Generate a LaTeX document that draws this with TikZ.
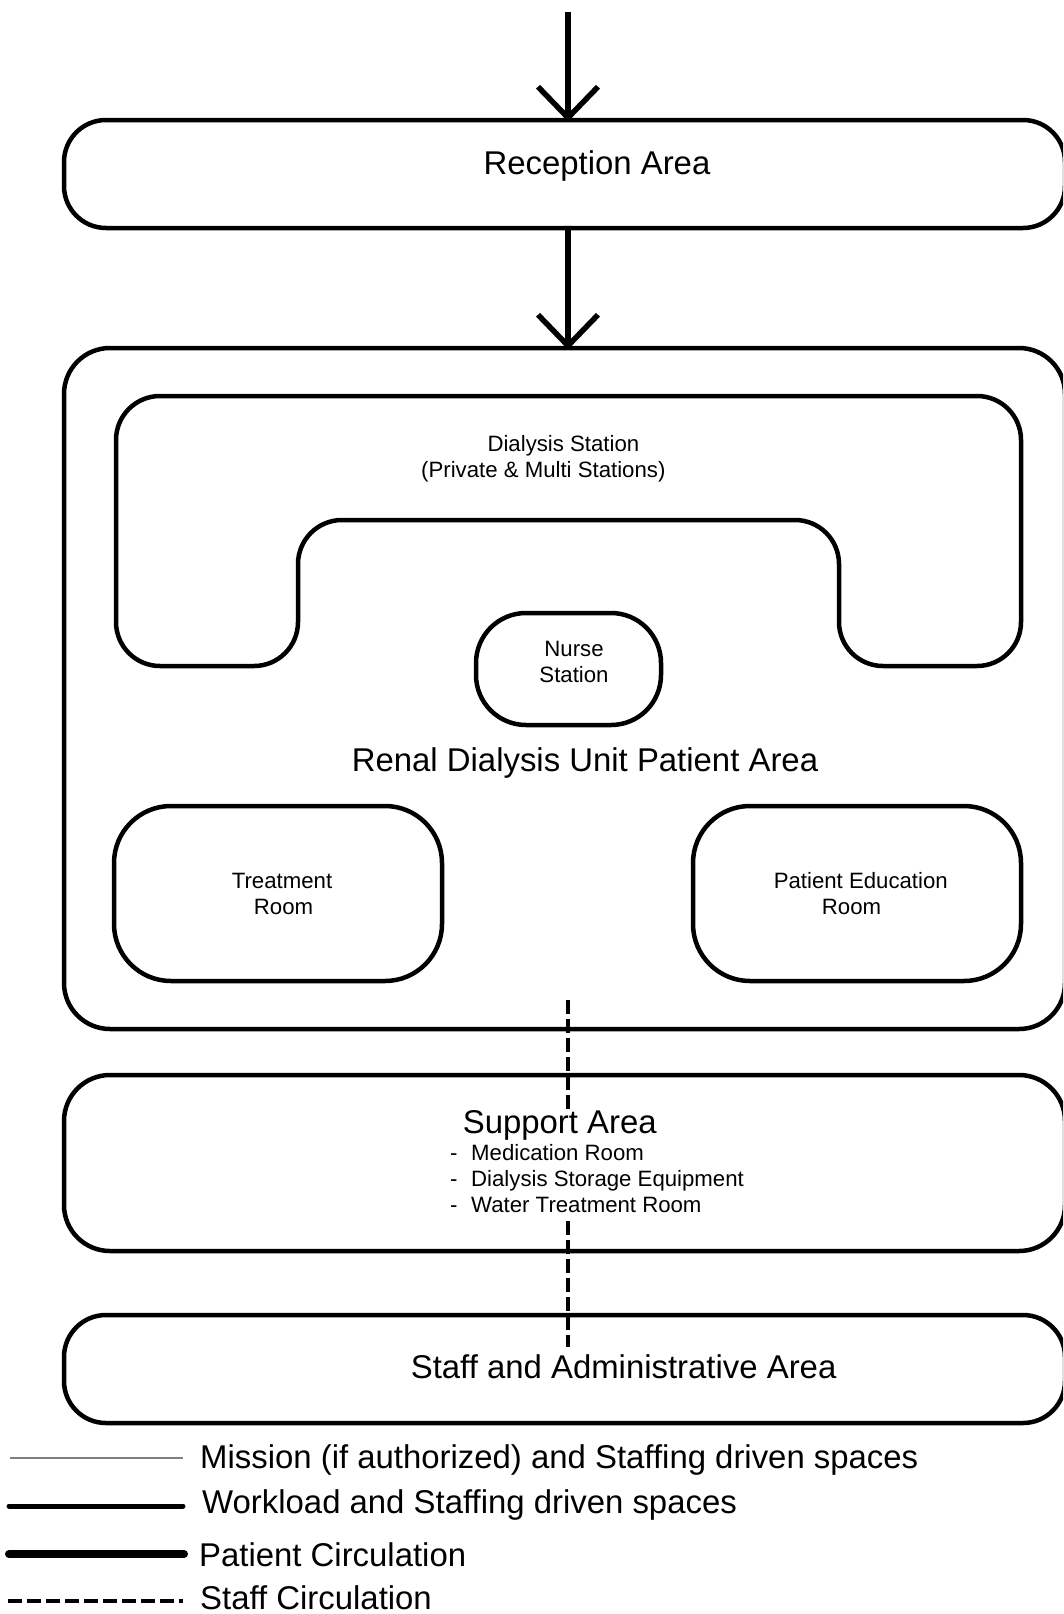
\documentclass[tikz,border=0pt]{standalone}
\usepackage{fontspec}
\setmainfont{Liberation Sans}
\usetikzlibrary{calc}
\begin{document}
\begin{tikzpicture}[x=1pt,y=-1pt,
  area/.style={draw, line width=4.5pt, rectangle, inner sep=0pt},
  big/.style={font=\fontsize{32.9pt}{39pt}\selectfont, inner sep=0pt, anchor=base},
  small/.style={font=\fontsize{22.2pt}{26pt}\selectfont, inner sep=0pt, anchor=base},
  legtext/.style={font=\fontsize{32.9pt}{39pt}\selectfont, inner sep=0pt, anchor=base west},
  patient/.style={line width=5.5pt},
  staffline/.style={line width=3.5pt, dash pattern=on 14pt off 5pt}]
\useasboundingbox (0,0) rectangle (1063,1614);
\fill[white] (0,0) rectangle (1063,1614);
\clip (0,0) rectangle (1063,1614);

% areas
\node[area, rounded corners=42pt, minimum width=1001pt, minimum height=108pt] (reception) at (564.5,174) {};
\node[area, rounded corners=46pt, minimum width=1001pt, minimum height=681pt] (renal) at (564.5,688.5) {};
\draw[line width=4.5pt, rounded corners=44pt]
  (568,396) -- (1021,396) -- (1021,666) -- (839,666) -- (839,520) -- (298,520)
  -- (298,666) -- (116,666) -- (116,396) -- cycle;
\node[area, rounded corners=50pt, minimum width=185pt, minimum height=112pt] (nurse) at (568.5,669) {};
\node[area, rounded corners=57pt, minimum width=328pt, minimum height=175pt] (treatment) at (278,893.5) {};
\node[area, rounded corners=57pt, minimum width=328pt, minimum height=175pt] (education) at (857,893.5) {};
\node[area, rounded corners=46pt, minimum width=1001pt, minimum height=176pt] (support) at (564.5,1163) {};
\node[area, rounded corners=42pt, minimum width=1001pt, minimum height=108pt] (staff) at (564.5,1369) {};

% texts
\node[big] (receptiontext) at (597,174.4) {Reception Area};
\node[small] (dial1) at (563.4,451.4) {Dialysis Station};
\node[small] (dial2) at (543.3,477) {(Private \& Multi Stations)};
\node[small] (nurse1) at (574,656) {Nurse};
\node[small] (nurse2) at (574,682) {Station};
\node[big] (renaltext) at (585,771) {Renal Dialysis Unit Patient Area};
\node[small] (treat1) at (282,888.7) {Treatment};
\node[small] (treat2) at (283.5,914.5) {Room};
\node[small] (edu1) at (860.8,888.7) {Patient Education};
\node[small] (edu2) at (851.5,914.5) {Room};
\node[big] (supporttext) at (559.8,1133.4) {Support Area};
\node[small, anchor=base west] (sup1) at (450,1160.4) {\makebox[21pt][l]{-}Medication Room};
\node[small, anchor=base west] (sup2) at (450,1186) {\makebox[21pt][l]{-}Dialysis Storage Equipment};
\node[small, anchor=base west] (sup3) at (450,1212) {\makebox[21pt][l]{-}Water Treatment Room};
\node[big] (stafftext) at (623.6,1378.3) {Staff and Administrative Area};

% patient circulation
\coordinate (in1) at (568,12);
\coordinate (tip1) at (in1 |- reception.north);
\draw[patient] (in1) -- (tip1);
\draw[patient] ($(tip1)+(-30,-31)$) -- (tip1) -- ($(tip1)+(30,-31)$);
\coordinate (out2) at (in1 |- reception.south);
\coordinate (tip2) at (in1 |- renal.north);
\draw[patient] (out2) -- (tip2);
\draw[patient] ($(tip2)+(-30,-31)$) -- (tip2) -- ($(tip2)+(30,-31)$);

% staff circulation
\coordinate (s1a) at (568,1000);
\coordinate (s1b) at (568,1113);
\coordinate (s2a) at (568,1221);
\coordinate (s2b) at (568,1347);
\draw[staffline] (s1a) -- (s1b);
\draw[staffline] (s2a) -- (s2b);

% legend
\coordinate (l1a) at (10,1458); \coordinate (l1b) at (183,1458);
\coordinate (l2a) at (9,1506);  \coordinate (l2b) at (183,1506);
\coordinate (l3a) at (9,1554);  \coordinate (l3b) at (184,1554);
\coordinate (l4a) at (8,1601);  \coordinate (l4b) at (183,1601);
\draw[line width=2pt, color=gray] (l1a) -- (l1b);
\draw[line width=5pt, line cap=round] (l2a) -- (l2b);
\draw[line width=8pt, line cap=round] (l3a) -- (l3b);
\draw[line width=3.5pt, dash pattern=on 14pt off 5pt] (l4a) -- (l4b);
\node[legtext] (leg1) at (200,1468) {Mission (if authorized) and Staffing driven spaces};
\node[legtext] (leg2) at (202,1513) {Workload and Staffing driven spaces};
\node[legtext] (leg3) at (199,1566) {Patient Circulation};
\node[legtext] (leg4) at (200,1609) {Staff Circulation};
\end{tikzpicture}
\end{document}
